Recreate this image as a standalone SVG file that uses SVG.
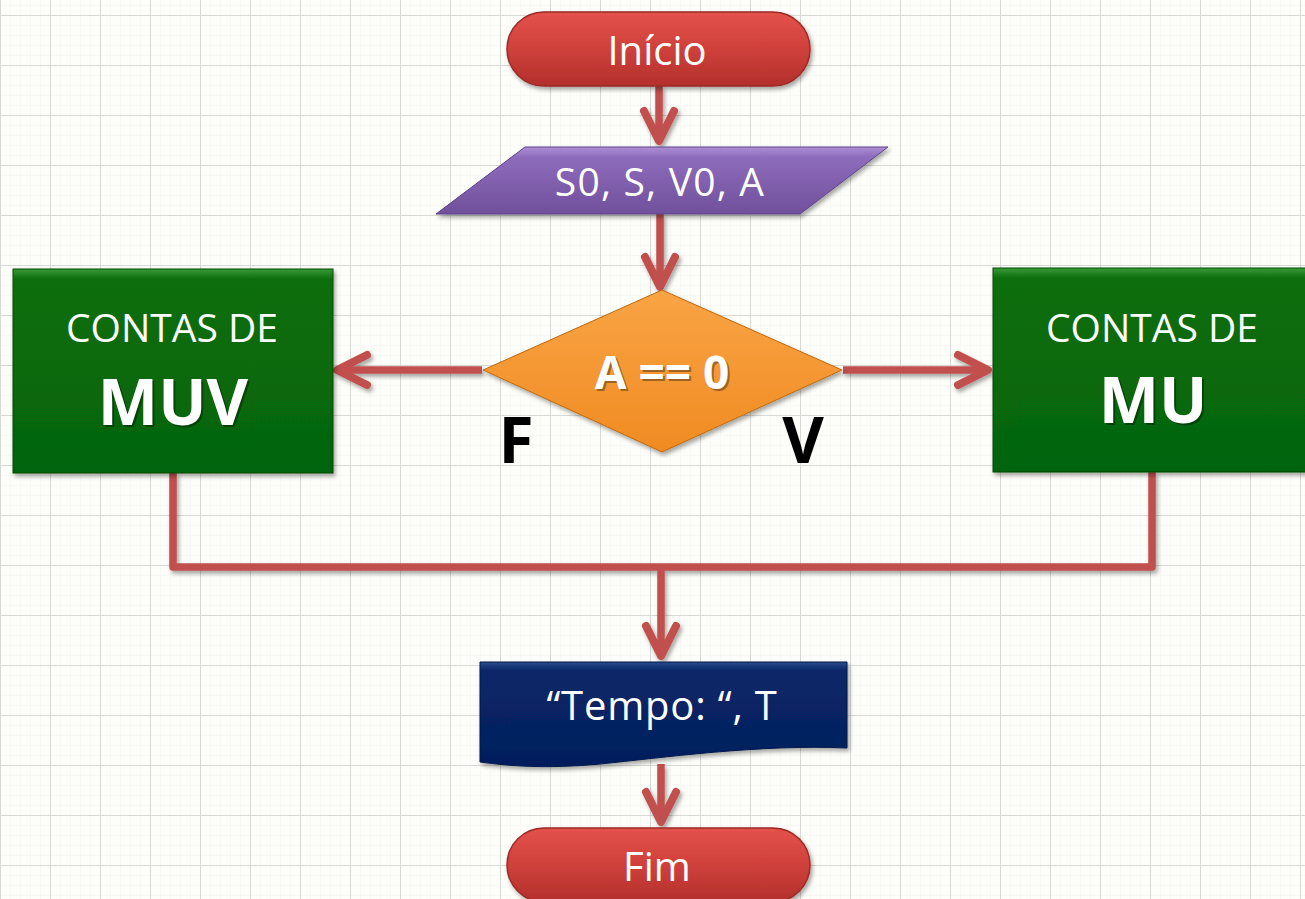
<svg xmlns="http://www.w3.org/2000/svg" width="1305" height="899" viewBox="0 0 1305 899">
<defs>
<style>
.lbl{font-family:"Open Sans","Noto Sans","DejaVu Sans",sans-serif;fill:#ffffff;text-anchor:middle}
.b{font-weight:bold}
.tsh{fill:#000000;fill-opacity:0.35}
.fv{font-family:"Open Sans","Noto Sans","DejaVu Sans",sans-serif;font-weight:bold;fill:#000000;text-anchor:middle;font-size:64px}
.conn{fill:none;stroke:#c0504d;stroke-width:7.5;stroke-linejoin:round}
</style>
<pattern id="minor" width="10" height="10" patternUnits="userSpaceOnUse" x="0" y="5">
<path d="M0,0 H10 M0,0 V10" fill="none" stroke="#f3f3ef" stroke-width="1"/>
</pattern>
<pattern id="major" width="50" height="50" patternUnits="userSpaceOnUse" x="0" y="15">
<path d="M0,0 H50 M0,0 V50" fill="none" stroke="#d8d8d4" stroke-width="2"/>
</pattern>
<linearGradient id="gRed" x1="0" y1="0" x2="0" y2="1">
<stop offset="0" stop-color="#e4524c"/><stop offset="0.5" stop-color="#cf403b"/><stop offset="1" stop-color="#b3302c"/>
</linearGradient>
<linearGradient id="gPur" x1="0" y1="0" x2="0" y2="1">
<stop offset="0" stop-color="#ad90d6"/><stop offset="0.15" stop-color="#8e6cbc"/><stop offset="1" stop-color="#70509c"/>
</linearGradient>
<linearGradient id="gOra" x1="0" y1="0" x2="0" y2="1">
<stop offset="0" stop-color="#f9a445"/><stop offset="1" stop-color="#f08b22"/>
</linearGradient>
<linearGradient id="gGrn" x1="0" y1="0" x2="0" y2="1">
<stop offset="0" stop-color="#3a9a3a"/><stop offset="0.05" stop-color="#0a6e0a"/><stop offset="1" stop-color="#056407"/>
</linearGradient>
<linearGradient id="gNav" x1="0" y1="0" x2="0" y2="1">
<stop offset="0" stop-color="#2a4a8a"/><stop offset="0.08" stop-color="#0a2868"/><stop offset="1" stop-color="#031e5c"/>
</linearGradient>
<filter id="sh" x="-10%" y="-10%" width="125%" height="135%">
<feDropShadow dx="2" dy="3" stdDeviation="2" flood-color="#000" flood-opacity="0.35"/>
</filter>
<marker id="arr" markerUnits="userSpaceOnUse" viewBox="-40 -22 46 44" refX="0" refY="0" markerWidth="46" markerHeight="44" orient="auto">
<path d="M-30,-15 L0,0 L-30,15" fill="none" stroke="#c0504d" stroke-width="8" stroke-linecap="round" stroke-linejoin="round"/>
</marker>
</defs>

<rect width="1305" height="899" fill="#fdfdf9"/>
<rect width="1305" height="899" fill="url(#minor)"/>
<rect width="1305" height="899" fill="url(#major)"/>

<g id="connectors" filter="url(#sh)">
<path class="conn" d="M659,86 V141" marker-end="url(#arr)"/>
<path class="conn" d="M660,214 V287" marker-end="url(#arr)"/>
<path class="conn" d="M482,370 H337" marker-end="url(#arr)"/>
<path class="conn" d="M843,370 H988" marker-end="url(#arr)"/>
<path class="conn" d="M173,473 V567 H1152 V472"/>
<path class="conn" d="M661,567 V656" marker-end="url(#arr)"/>
<path class="conn" d="M661,764 V822" marker-end="url(#arr)"/>
</g>

<g id="inicio">
<rect x="507" y="12" width="303" height="74" rx="37" fill="url(#gRed)" stroke="#9c2a26" stroke-width="1.5" filter="url(#sh)"/>
<text class="lbl" x="657" y="65" font-size="40">Início</text>
</g>

<g id="entrada">
<polygon points="525,147 888,147 800,214 436,214" fill="url(#gPur)" stroke="#5e4488" stroke-width="1" filter="url(#sh)"/>
<text class="lbl" x="660" y="196" font-size="39" letter-spacing="1.2">S0, S, V0, A</text>
</g>

<g id="decisao">
<polygon points="662,290 842,370 662,452 483,370" fill="url(#gOra)" stroke="#c06a10" stroke-width="1" filter="url(#sh)"/>
<text class="lbl b tsh" x="664" y="391" font-size="46">A == 0</text>
<text class="lbl b" x="662" y="389" font-size="46">A == 0</text>
</g>

<g id="labelF">
<text class="fv" x="516" y="463">F</text>
</g>
<g id="labelV">
<text class="fv" x="803" y="463">V</text>
</g>

<g id="muv">
<rect x="13" y="269" width="320" height="204" fill="url(#gGrn)" stroke="#044a04" stroke-width="1" filter="url(#sh)"/>
<text class="lbl" x="172" y="342" font-size="39">CONTAS DE</text>
<text class="lbl b tsh" x="175" y="427" font-size="64">MUV</text>
<text class="lbl b" x="173" y="425" font-size="64">MUV</text>
</g>

<g id="mu">
<rect x="993" y="268" width="330" height="204" fill="url(#gGrn)" stroke="#044a04" stroke-width="1" filter="url(#sh)"/>
<text class="lbl" x="1152" y="342" font-size="39">CONTAS DE</text>
<text class="lbl b tsh" x="1155" y="425" font-size="64">MU</text>
<text class="lbl b" x="1153" y="423" font-size="64">MU</text>
</g>

<g id="saida">
<path d="M480,662 H847 V748 C760,744 660,758 600,764 C545,769 510,766 480,762 Z" fill="url(#gNav)" stroke="#021a4c" stroke-width="1" filter="url(#sh)"/>
<text class="lbl" x="662" y="720" font-size="40" letter-spacing="0.8">“Tempo: “, T</text>
</g>

<g id="fim">
<rect x="507" y="828" width="303" height="74" rx="37" fill="url(#gRed)" stroke="#9c2a26" stroke-width="1.5" filter="url(#sh)"/>
<text class="lbl" x="657" y="881" font-size="40">Fim</text>
</g>
</svg>
